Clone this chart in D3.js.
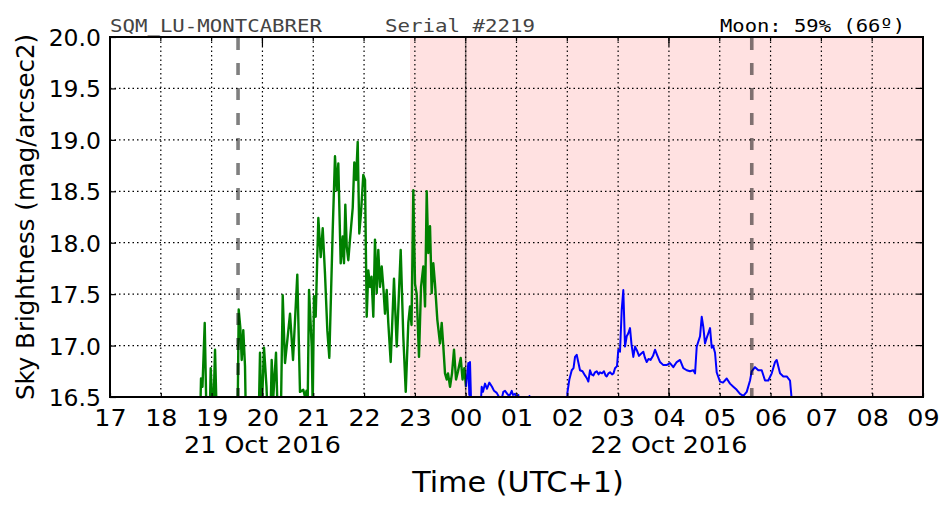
<!DOCTYPE html>
<html>
<head>
<meta charset="utf-8">
<script src="https://cdn.jsdelivr.net/npm/d3@7"></script>
<style>
  html, body { margin: 0; padding: 0; background: #fff; }
  svg { display: block; }
</style>
</head>
<body>
<svg id="chart" width="952" height="512"></svg>
<script>
// ---------------- data (hours of 21 Oct 2016; values > 24 are on 22 Oct) ----------------
const greenHours = [18.771,18.791,18.820,18.864,18.903,18.958,18.982,19.007,19.037,19.067,19.106,
  19.509,19.533,19.564,19.592,19.623,19.657,19.677,19.923,19.952,19.982,20.031,20.080,20.110,20.159,
  20.182,20.214,20.267,20.306,20.365,20.399,20.444,20.543,20.602,20.686,20.739,20.804,20.838,20.867,
  20.887,20.917,20.970,20.989,21.015,21.048,21.100,21.147,21.186,21.231,21.277,21.316,21.383,21.428,
  21.462,21.493,21.540,21.580,21.605,21.631,21.659,21.690,21.723,21.777,21.808,21.842,21.875,21.906,
  21.940,21.985,22.019,22.052,22.084,22.117,22.147,22.182,22.215,22.249,22.280,22.314,22.347,22.379,
  22.412,22.446,22.477,22.524,22.589,22.643,22.721,22.772,22.820,22.871,22.904,22.934,22.969,23.003,
  23.036,23.081,23.121,23.166,23.200,23.233,23.264,23.298,23.331,23.363,23.396,23.442,23.495,23.528,
  23.560,23.593,23.627,23.652,23.692,23.731,23.770,23.810,23.849,23.902,23.938,23.973,24.006];
const greenValues = [16.2,16.68,16.6,17.22,16.2,16.2,16.78,16.5,16.4,16.96,16.2,
  16.2,17.35,17.18,16.86,17.15,16.8,16.2,16.2,16.93,16.3,16.98,16.6,16.2,16.3,
  16.86,16.5,16.93,16.2,16.4,17.49,16.83,17.31,16.86,17.69,16.55,16.57,16.5,16.56,
  16.3,17.54,16.99,16.4,17.48,17.28,18.24,17.86,18.14,17.7,17.15,16.88,18.12,18.84,
  18.51,18.77,17.8,18.06,17.8,18.37,17.96,17.83,18.03,18.34,18.78,18.61,18.98,18.09,
  18.29,18.66,18.61,17.28,17.73,17.57,17.67,17.28,18.03,17.51,17.93,17.57,17.77,17.57,
  17.31,17.54,17.22,16.84,17.65,16.99,17.93,17.09,16.55,17.22,17.38,17.2,18.51,17.6,
  17.5,16.89,17.57,17.77,17.38,18.5,17.9,18.16,17.51,17.8,17.6,17.25,17.02,17.22,
  16.99,16.73,16.67,16.73,16.6,16.73,16.96,16.67,16.75,16.88,16.67,16.78,16.6];

const blueHours = [24.006,24.052,24.071,24.085,24.115,24.282,24.315,24.341,24.380,24.420,24.465,
  24.518,24.558,24.611,24.656,24.695,24.740,24.774,24.833,24.872,24.906,24.931,24.971,25.010,25.036,
  25.069,25.227,25.256,25.286,25.975,26.004,26.040,26.087,26.122,26.152,26.185,26.211,26.250,26.299,
  26.348,26.388,26.414,26.447,26.476,26.512,26.545,26.579,26.614,26.644,26.683,26.722,26.752,26.775,
  26.811,26.841,26.880,26.909,26.939,26.978,27.004,27.037,27.071,27.102,27.136,27.169,27.201,27.234,
  27.264,27.299,27.333,27.372,27.411,27.451,27.496,27.529,27.563,27.598,27.638,27.687,27.726,27.766,
  27.825,27.890,27.953,28.021,28.086,28.153,28.218,28.283,28.350,28.415,28.480,28.514,28.547,28.612,
  28.645,28.677,28.710,28.740,28.775,28.809,28.842,28.868,28.907,28.940,29.005,29.064,29.137,29.202,
  29.267,29.334,29.399,29.464,29.531,29.596,29.629,29.694,29.759,29.826,29.891,29.956,30.023,30.088,
  30.121,30.186,30.251,30.318,30.383,30.448];
const blueValues = [16.6,16.83,16.52,16.84,16.3,16.3,16.6,16.55,16.63,16.58,16.64,
  16.6,16.56,16.54,16.5,16.45,16.55,16.56,16.52,16.52,16.56,16.52,16.53,16.48,16.52,
  16.3,16.3,16.51,16.3,16.3,16.55,16.67,16.76,16.78,16.89,16.91,16.85,16.76,16.75,
  16.71,16.68,16.65,16.76,16.72,16.71,16.74,16.75,16.72,16.74,16.73,16.75,16.71,16.7,
  16.73,16.74,16.72,16.73,16.78,16.8,16.96,16.94,17.35,17.54,16.99,17.09,17.12,17.17,
  17.01,16.89,16.99,16.95,16.9,16.92,16.94,16.88,16.84,16.87,16.86,16.9,16.96,16.91,
  16.84,16.81,16.81,16.83,16.79,16.84,16.86,16.78,16.76,16.75,16.76,16.73,16.99,17.09,
  17.28,17.18,17.02,17.07,17.12,17.17,16.98,17.0,16.93,16.74,16.65,16.64,16.68,16.63,
  16.6,16.57,16.53,16.51,16.55,16.66,16.75,16.79,16.76,16.76,16.66,16.66,16.73,16.84,
  16.86,16.73,16.7,16.7,16.66,16.3];

const xDomainHours = [17, 33];
const yDomain = [16.5, 20.0];
const yTickValues = [16.5, 17.0, 17.5, 18.0, 18.5, 19.0, 19.5, 20.0];
const dateLabels = [{hour: 20, text: "21 Oct 2016"}, {hour: 28, text: "22 Oct 2016"}];
const twilightStartHour = 22.904;   // shaded (night) region start
const midnightHour = 24;
const moonHours = [19.52, 29.63];   // dashed moon lines
const headerLeft = "SQM_LU-MONTCABRER";
const headerMid = "Serial #2219";
const headerRight = "Moon: 59% (66º)";
const yLabel = "Sky Brightness (mag/arcsec2)";
const xLabel = "Time (UTC+1)";

// ---------------- layout ----------------
const L = 110, T = 37, R = 923, B = 397;
const base = new Date(2016, 9, 21, 0, 0, 0).getTime();
const toDate = h => new Date(base + h * 3600e3);

const svg = d3.select("#chart");
const x = d3.scaleTime().domain(xDomainHours.map(toDate)).range([L, R]);
const y = d3.scaleLinear().domain(yDomain).range([B, T]);
const SX = 1.08; // horizontal text stretch of the original

svg.append("defs").append("clipPath").attr("id", "clip")
  .append("rect").attr("x", L).attr("y", T).attr("width", R - L).attr("height", B - T);

// shaded region
svg.append("rect")
  .attr("x", x(toDate(twilightStartHour))).attr("y", T)
  .attr("width", R - x(toDate(twilightStartHour))).attr("height", B - T)
  .attr("fill", "#ffe1e1");

// grid
const hourTicks = d3.range(xDomainHours[0], xDomainHours[1] + 1).map(toDate);
const grid = svg.append("g").attr("stroke", "#000").attr("stroke-width", 1.2)
  .attr("stroke-dasharray", "1.5,3").attr("fill", "none");
hourTicks.slice(1, -1).forEach(d => {
  grid.append("line").attr("x1", x(d)).attr("x2", x(d)).attr("y1", T).attr("y2", B);
});
yTickValues.slice(1, -1).forEach(v => {
  grid.append("line").attr("x1", L).attr("x2", R).attr("y1", y(v)).attr("y2", y(v));
});

// lines
const line = d3.line().x(d => x(toDate(d[0]))).y(d => y(d[1]));
const lines = svg.append("g").attr("clip-path", "url(#clip)");
lines.append("path").datum(d3.zip(greenHours, greenValues))
  .attr("d", line).attr("fill", "none").attr("stroke", "#008000")
  .attr("stroke-width", 2.4).attr("stroke-linejoin", "round");
lines.append("path").datum(d3.zip(blueHours, blueValues))
  .attr("d", line).attr("fill", "none").attr("stroke", "#0000ff")
  .attr("stroke-width", 2).attr("stroke-linejoin", "round");

// midnight line
svg.append("line")
  .attr("x1", x(toDate(midnightHour))).attr("x2", x(toDate(midnightHour)))
  .attr("y1", T).attr("y2", B).attr("stroke", "rgba(0,0,0,0.5)").attr("stroke-width", 1.5);

// moon dashed lines
moonHours.forEach(h => {
  svg.append("line")
    .attr("x1", x(toDate(h))).attr("x2", x(toDate(h)))
    .attr("y1", T).attr("y2", B)
    .attr("stroke", "rgba(0,0,0,0.5)").attr("stroke-width", 3.6)
    .attr("stroke-dasharray", "12,13").attr("stroke-dashoffset", -1);
});

// frame
svg.append("rect").attr("x", L).attr("y", T).attr("width", R - L).attr("height", B - T)
  .attr("fill", "none").attr("stroke", "#000").attr("stroke-width", 2);

// axes
const fontSans = "'DejaVu Sans', sans-serif";
const xAxis = d3.axisBottom(x).tickValues(hourTicks).tickFormat(d3.timeFormat("%H"))
  .tickSize(-4).tickPadding(12);
const gx = svg.append("g").attr("transform", `translate(0,${B})`).call(xAxis);
const yAxis = d3.axisLeft(y).tickValues(yTickValues).tickFormat(d3.format(".1f"))
  .tickSize(-6).tickPadding(9);
const gy = svg.append("g").attr("transform", `translate(${L},0)`).call(yAxis);
[gx, gy].forEach(g => {
  g.select(".domain").remove();
  g.selectAll(".tick line").attr("stroke", "#000").attr("stroke-width", 1.2);
  g.selectAll(".tick text").attr("font-family", fontSans).attr("font-size", 23.5)
    .attr("fill", "#000");
});
gx.selectAll(".tick text").attr("transform", `scale(${SX},1)`).attr("dy", "0.71em");
gy.selectAll(".tick text").attr("dy", "0.36em");

// top ticks
hourTicks.forEach(d => {
  svg.append("line").attr("x1", x(d)).attr("x2", x(d)).attr("y1", T).attr("y2", T + 4)
    .attr("stroke", "#000").attr("stroke-width", 1.2);
});
// right ticks
yTickValues.forEach(v => {
  svg.append("line").attr("x1", R - 6).attr("x2", R).attr("y1", y(v)).attr("y2", y(v))
    .attr("stroke", "#000").attr("stroke-width", 1.2);
});
// major (date) ticks
dateLabels.forEach(dl => {
  const xx = x(toDate(dl.hour));
  svg.append("line").attr("x1", xx).attr("x2", xx).attr("y1", T).attr("y2", T + 9)
    .attr("stroke", "#000").attr("stroke-width", 1.2);
  svg.append("line").attr("x1", xx).attr("x2", xx).attr("y1", B).attr("y2", B - 9)
    .attr("stroke", "#000").attr("stroke-width", 1.2);
  svg.append("text").attr("transform", `translate(${xx},453) scale(${SX},1)`)
    .attr("text-anchor", "middle").attr("font-family", fontSans).attr("font-size", 23.5)
    .text(dl.text);
});

// axis titles
svg.append("text").attr("transform", `translate(518,492) scale(${SX},1)`)
  .attr("text-anchor", "middle").attr("font-family", fontSans).attr("font-size", 28)
  .text(xLabel);
svg.append("text").attr("transform", `translate(34,217) rotate(-90)`)
  .attr("text-anchor", "middle").attr("font-family", fontSans).attr("font-size", 24.5)
  .text(yLabel);

// header
const mono = "'DejaVu Sans Mono', monospace";
svg.append("text").attr("x", 110).attr("y", 32).attr("font-family", mono).attr("font-size", 18)
  .attr("fill", "#444").attr("textLength", 212).attr("lengthAdjust", "spacingAndGlyphs")
  .text(headerLeft);
svg.append("text").attr("x", 385).attr("y", 32).attr("font-family", mono).attr("font-size", 18)
  .attr("fill", "#444").attr("textLength", 150).attr("lengthAdjust", "spacingAndGlyphs")
  .text(headerMid);
svg.append("text").attr("x", 720).attr("y", 32).attr("font-family", mono).attr("font-size", 18)
  .attr("fill", "#000").attr("textLength", 185).attr("lengthAdjust", "spacingAndGlyphs")
  .text(headerRight);
</script>
</body>
</html>
